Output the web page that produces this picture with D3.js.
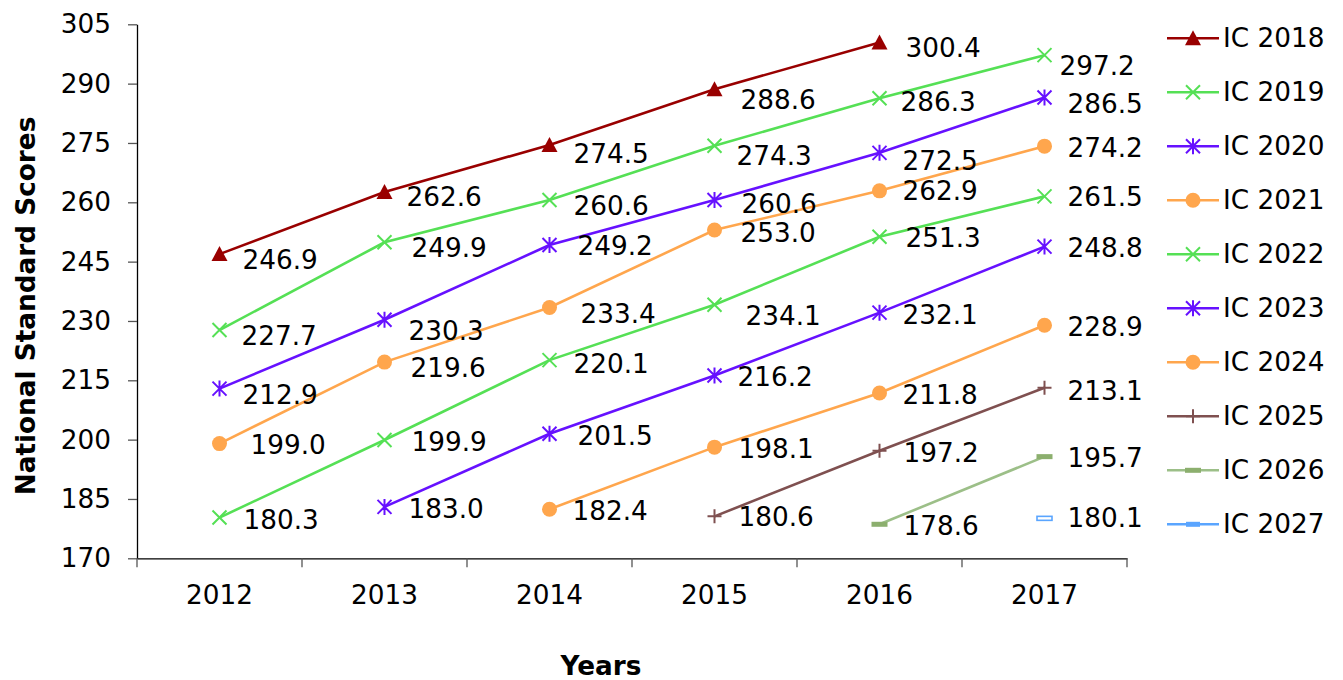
<!DOCTYPE html>
<html><head><meta charset="utf-8">
<script src="https://cdn.jsdelivr.net/npm/d3@7"></script>
<style>
body{margin:0;background:#fff;}
text{font-family:"DejaVu Sans",Verdana,sans-serif;fill:#000;}
</style></head>
<body><svg id="c" width="1343" height="680"></svg>
<script>
// ---- data ----
const years = ["2012","2013","2014","2015","2016","2017"];
const yTicks = [170,185,200,215,230,245,260,275,290,305];
const seriesNames = ["IC 2018","IC 2019","IC 2020","IC 2021","IC 2022","IC 2023","IC 2024","IC 2025","IC 2026","IC 2027"];
const ic2018 = [246.9,262.6,274.5,288.6,300.4,null];
const ic2019 = [227.7,249.9,260.6,274.3,286.3,297.2];
const ic2020 = [212.9,230.3,249.2,260.6,272.5,286.5];
const ic2021 = [199.0,219.6,233.4,253.0,262.9,274.2];
const ic2022 = [180.3,199.9,220.1,234.1,251.3,261.5];
const ic2023 = [null,183.0,201.5,216.2,232.1,248.8];
const ic2024 = [null,null,182.4,198.1,211.8,228.9];
const ic2025 = [null,null,null,180.6,197.2,213.1];
const ic2026 = [null,null,null,null,178.6,195.7];
const ic2027 = [null,null,null,null,null,180.1];
const seriesValues = [ic2018,ic2019,ic2020,ic2021,ic2022,ic2023,ic2024,ic2025,ic2026,ic2027];

// ---- styles ----
const colors = ["#990000","#55E055","#6611FF","#FFA64D","#55E055","#6611FF","#FFA64D","#7F5050","#9CBF88","#5AA5FF"];
const markers = ["triangle","x","asterisk","circle","x","asterisk","circle","plus","dash","hollowdash"];
// label offsets (px) per series/year, relative to point
const labelOffsets = [
  [[24,6],[23,5],[25,9],[27,11],[27,6],null],
  [[23,6],[28,6],[25,6],[23,10],[22,4],[16,11]],
  [[24,6],[25,11],[29,1],[28,4],[24,8],[24,7]],
  [[32,1],[27,6],[32,6],[27,3],[24,0],[24,2]],
  [[25,2],[28,2],[25,4],[32,11],[27,1],[24,1]],
  [null,[25,2],[29,2],[24,1],[24,2],[24,1]],
  [null,null,[24,2],[25,2],[24,2],[24,2]],
  [null,null,null,[25,1],[25,2],[24,3]],
  [null,null,null,null,[25,2],[24,1]],
  [null,null,null,null,null,[24,0]]
];

const svg = d3.select("#c");
const pLeft = 137, pRight = 1127, pTop = 24.3, pBottom = 558.3;
const x = d3.scaleBand().domain(years).range([pLeft, pRight]);
const y = d3.scaleLinear().domain([170,305]).range([pBottom, pTop]);
const FS = 26.3;

// axes
const yAxis = svg.append("g").attr("transform",`translate(${pLeft},0)`)
  .call(d3.axisLeft(y).tickValues(yTicks).tickSize(9).tickPadding(17).tickSizeOuter(0));
yAxis.select(".domain").attr("stroke","#000").attr("stroke-width",1.3);
yAxis.selectAll(".tick line").attr("stroke","#555").attr("stroke-width",1.3);
yAxis.selectAll("text").attr("font-size",FS).attr("font-family","DejaVu Sans").attr("fill","#000");

const xAxis = svg.append("g").attr("transform",`translate(0,${pBottom})`)
  .call(d3.axisBottom(x).tickSize(0).tickPadding(27).tickSizeOuter(0));
xAxis.select(".domain").attr("stroke","#000").attr("stroke-width",1.3);
xAxis.selectAll("text").attr("font-size",FS).attr("font-family","DejaVu Sans").attr("fill","#000");
// category separator ticks
const sepX = [pLeft].concat(years.map(d => x(d) + x.bandwidth()));
xAxis.selectAll("line.sep").data(sepX).enter().append("line")
  .attr("class","sep").attr("x1",d=>d).attr("x2",d=>d).attr("y1",0).attr("y2",9)
  .attr("stroke","#555").attr("stroke-width",1.3);

// axis titles
svg.append("text").attr("x",601).attr("y",666).attr("text-anchor","middle")
  .attr("dominant-baseline","central").attr("font-size",FS).attr("font-weight","bold").text("Years");
svg.append("text").attr("transform","translate(26,306) rotate(-90)").attr("text-anchor","middle")
  .attr("dominant-baseline","central").attr("font-size",FS).attr("font-weight","bold").text("National Standard Scores");

function drawMarker(g, type, color, cx, cy){
  const s = 7;
  if(type==="triangle"){
    g.append("path").attr("d",`M${cx},${cy-8}L${cx+8},${cy+7}L${cx-8},${cy+7}Z`).attr("fill",color);
  } else if(type==="circle"){
    g.append("circle").attr("cx",cx).attr("cy",cy).attr("r",7.5).attr("fill",color);
  } else if(type==="x"){
    g.append("path").attr("d",`M${cx-s},${cy-s}L${cx+s},${cy+s}M${cx-s},${cy+s}L${cx+s},${cy-s}`)
      .attr("stroke",color).attr("stroke-width",2).attr("fill","none");
  } else if(type==="asterisk"){
    g.append("path").attr("d",`M${cx-s},${cy-s}L${cx+s},${cy+s}M${cx-s},${cy+s}L${cx+s},${cy-s}M${cx},${cy-s-1}L${cx},${cy+s+1}`)
      .attr("stroke",color).attr("stroke-width",2).attr("fill","none");
  } else if(type==="plus"){
    g.append("path").attr("d",`M${cx-s},${cy}L${cx+s},${cy}M${cx},${cy-s}L${cx},${cy+s}`)
      .attr("stroke",color).attr("stroke-width",2).attr("fill","none");
  } else if(type==="dash"){
    g.append("rect").attr("x",cx-8).attr("y",cy-2.5).attr("width",16).attr("height",5).attr("fill","#8CAF6E");
  } else if(type==="hollowdash"){
    g.append("rect").attr("x",cx-7.5).attr("y",cy-2).attr("width",15).attr("height",4)
      .attr("fill","#fff").attr("stroke",color).attr("stroke-width",1.6);
  }
}

const line = d3.line().defined(d => d.v != null).x(d => x(d.year) + x.bandwidth()/2).y(d => y(d.v));
const plot = svg.append("g");
seriesValues.forEach((vals, i) => {
  const pts = years.map((yr, j) => ({year: yr, v: vals[j], j}));
  plot.append("path").datum(pts).attr("d", line).attr("fill","none")
    .attr("stroke", colors[i]).attr("stroke-width", 2.6);
});
seriesValues.forEach((vals, i) => {
  const g = plot.append("g");
  years.forEach((yr, j) => {
    if (vals[j] == null) return;
    const cx = x(yr) + x.bandwidth()/2, cy = y(vals[j]);
    drawMarker(g, markers[i], colors[i], cx, cy);
  });
});
seriesValues.forEach((vals, i) => {
  years.forEach((yr, j) => {
    if (vals[j] == null) return;
    const cx = x(yr) + x.bandwidth()/2, cy = y(vals[j]);
    const off = labelOffsets[i][j] || [24,2];
    svg.append("text").attr("x", cx + off[0] - 1).attr("y", cy + off[1])
      .attr("dominant-baseline","central").attr("font-size",FS).text(vals[j].toFixed(1));
  });
});

// legend
const lg = svg.append("g");
seriesNames.forEach((name, i) => {
  const cy = 38.3 + i*54.0;
  lg.append("line").attr("x1",1167).attr("x2",1219).attr("y1",cy).attr("y2",cy)
    .attr("stroke",colors[i]).attr("stroke-width",2.6);
  if (markers[i] === "hollowdash") {
    lg.append("rect").attr("x",1186).attr("y",cy-2.5).attr("width",14).attr("height",5).attr("fill",colors[i]);
  } else {
    drawMarker(lg, markers[i], colors[i], 1193, cy);
  }
  lg.append("text").attr("x",1223).attr("y",cy).attr("dominant-baseline","central")
    .attr("font-size",FS).text(name);
});
</script></body></html>
